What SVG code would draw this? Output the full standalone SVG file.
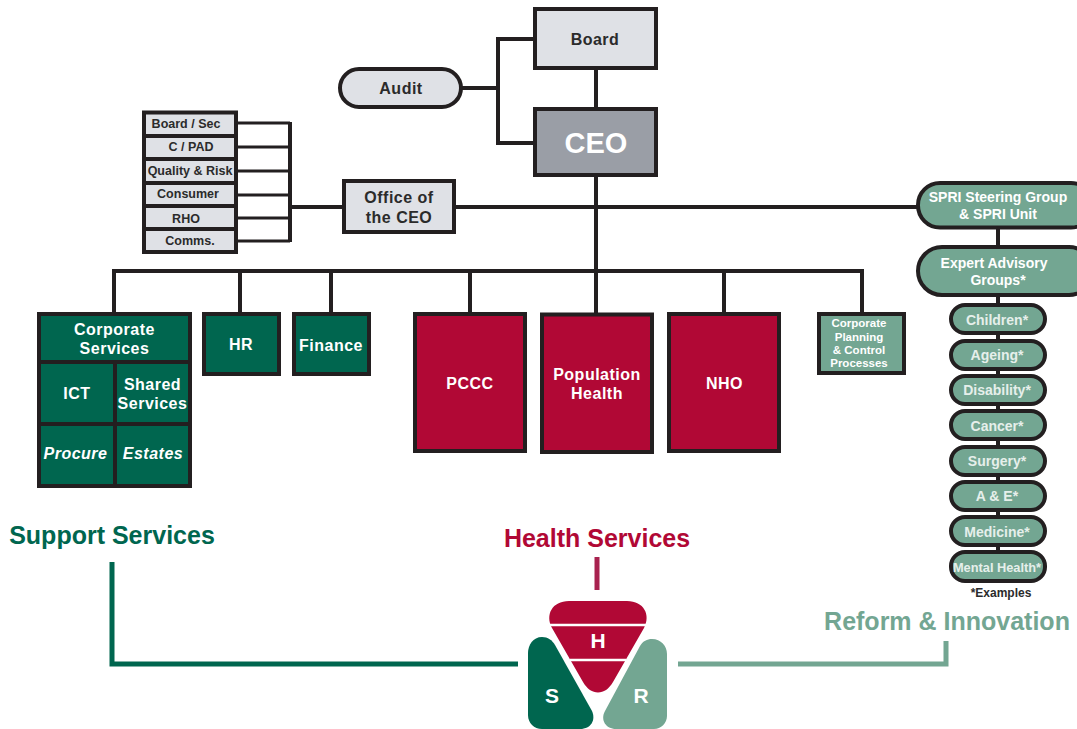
<svg xmlns="http://www.w3.org/2000/svg" width="1077" height="729" viewBox="0 0 1077 729">
<style>
text{font-family:"Liberation Sans",Arial,sans-serif;font-weight:700;text-anchor:middle}
.w{fill:#fff}.k{fill:#2b2b2b}.s{fill:#e6efeb}
.box{stroke:#231f20;stroke-width:4}
.grey{fill:#dfe1e6}.dg{fill:#00664f}.red{fill:#b10835}.lg{fill:#73a692}
.c{fill:none;stroke:#231f20;stroke-width:4}
.n{fill:none;stroke:#231f20;stroke-width:3}
.t15{font-size:16px;letter-spacing:.5px}.t13{font-size:12.500px}
.p{font-size:14px}
</style>
<g id="connectors">
<path class="c" d="M596 68V108M533 39H498V143H533M461 88H498M596 176V313M114 313V271H862V313M240 271V313M331 271V313M470 271V313M724 271V313"/>
<path class="n" d="M236 123H290M236 147H290M236 171H290M236 195H290M236 218H290M236 241H290"/>
<path class="c" d="M290 122V242M290 207H343M455 207H918M998 228V552"/>
<path fill="none" stroke="#00664f" stroke-width="5" d="M112 562V664H518"/>
<path fill="none" stroke="#a8224f" stroke-width="5" d="M597 557V590"/>
<path fill="none" stroke="#73a692" stroke-width="5" d="M678 664H946V641"/>
</g>
<g id="board"><rect class="box grey" x="535" y="9" width="121" height="59"/><text class="t15 k" x="595" y="44.500">Board</text></g>
<g id="audit"><rect class="box grey" x="340" y="69" width="121" height="38" rx="19"/><text class="t15 k" x="401" y="93.500">Audit</text></g>
<g id="ceo"><rect class="box" fill="#9a9ea6" x="535" y="109" width="121" height="66"/><text class="w" x="596" y="153" font-size="29">CEO</text></g>
<g id="office"><rect class="box grey" x="344" y="181" width="110" height="51"/><text class="t15 k" x="399" y="202.500">Office of</text><text class="t15 k" x="399" y="222.500">the CEO</text></g>
<g id="office-units">
<rect class="box grey" x="144" y="112.500" width="92" height="23.500"/><text class="t13 k" x="186" y="128">Board / Sec</text>
<rect class="box grey" x="144" y="136" width="92" height="23"/><text class="t13 k" x="191" y="151">C / PAD</text>
<rect class="box grey" x="144" y="159" width="92" height="24"/><text class="t13 k" x="190" y="175" font-size="12">Quality &amp; Risk</text>
<rect class="box grey" x="144" y="183" width="92" height="23"/><text class="t13 k" x="188" y="198">Consumer</text>
<rect class="box grey" x="144" y="206" width="92" height="23"/><text class="t13 k" x="186" y="223">RHO</text>
<rect class="box grey" x="144" y="229" width="92" height="23"/><text class="t13 k" x="190" y="245">Comms.</text>
</g>
<g id="corporate-services">
<rect class="box dg" x="39" y="314" width="151" height="172"/>
<path class="c" d="M38 362H191M38 424H191M115 362V488"/>
<text class="t15 w" x="114.500" y="334.500">Corporate</text><text class="t15 w" x="114.500" y="353.500">Services</text>
<text class="t15 w" x="77" y="398.500">ICT</text>
<text class="t15 w" x="152.500" y="389.500">Shared</text><text class="t15 w" x="152.500" y="409">Services</text>
<text class="t15 w" x="75.500" y="459" font-style="italic">Procure</text><text class="t15 w" x="153" y="459" font-style="italic">Estates</text>
</g>
<g id="hr"><rect class="box dg" x="204" y="314" width="75" height="60"/><text class="t15 w" x="241" y="349.500">HR</text></g>
<g id="finance"><rect class="box dg" x="294" y="314" width="75" height="60"/><text class="t15 w" x="331" y="350.500">Finance</text></g>
<g id="pccc"><rect class="box red" x="415" y="314" width="110" height="137"/><text class="t15 w" x="470" y="388.500">PCCC</text></g>
<g id="population-health"><rect class="box red" x="542" y="314.500" width="110" height="137.500"/><text class="t15 w" x="597" y="379.500">Population</text><text class="t15 w" x="597" y="398.500">Health</text></g>
<g id="nho"><rect class="box red" x="669" y="314" width="110" height="137"/><text class="t15 w" x="724.500" y="388.500">NHO</text></g>
<g id="planning"><rect class="box lg" x="819" y="314" width="85" height="59"/>
<text class="w" font-size="11.500" x="859" y="327">Corporate</text><text class="w" font-size="11.500" x="859" y="341">Planning</text><text class="w" font-size="11.500" x="859" y="354">&amp; Control</text><text class="w" font-size="11.500" x="859" y="367">Processes</text></g>
<g id="spri"><rect class="box lg" x="918" y="183" width="175" height="44.500" rx="22"/><text class="w" x="998" y="202" font-size="14">SPRI Steering Group</text><text class="w" x="998" y="219" font-size="14">&amp; SPRI Unit</text></g>
<g id="expert"><rect class="box lg" x="918" y="247" width="175" height="48" rx="24"/><text class="w" x="994" y="268" font-size="14">Expert Advisory</text><text class="w" x="998" y="285" font-size="14">Groups*</text></g>
<g id="children"><rect class="box lg" x="951" y="305" width="94" height="28" rx="14"/><text class="p s" x="997" y="325">Children*</text></g>
<g id="ageing"><rect class="box lg" x="951" y="341" width="94" height="28" rx="14"/><text class="p s" x="997" y="360">Ageing*</text></g>
<g id="disability"><rect class="box lg" x="951" y="376" width="94" height="28" rx="14"/><text class="p s" x="997" y="395">Disability*</text></g>
<g id="cancer"><rect class="box lg" x="951" y="411" width="94" height="28" rx="14"/><text class="p s" x="997" y="431">Cancer*</text></g>
<g id="surgery"><rect class="box lg" x="951" y="447" width="94" height="28" rx="14"/><text class="p s" x="997" y="466">Surgery*</text></g>
<g id="ae"><rect class="box lg" x="951" y="482" width="94" height="28" rx="14"/><text class="p s" x="997" y="501">A &amp; E*</text></g>
<g id="medicine"><rect class="box lg" x="951" y="517" width="94" height="28" rx="14"/><text class="p s" x="997" y="537">Medicine*</text></g>
<g id="mental-health"><rect class="box lg" x="951" y="552" width="94" height="29" rx="14"/><text class="s" x="997" y="572" font-size="12.800">Mental Health*</text></g>
<text class="k" x="1001" y="597" font-size="12">*Examples</text>
<text x="112" y="544" font-size="25" fill="#00664f">Support Services</text>
<text x="597" y="547" font-size="25" fill="#b10835">Health Services</text>
<text x="947" y="630" font-size="25" fill="#73a692">Reform &amp; Innovation</text>
<g id="logo">
<path class="red" d="M569 601H627C644 601 651 615 644 628L613 682C605 696 591 696 583 682L552 628C545 615 552 601 569 601Z"/>
<path stroke="#fff" stroke-width="2.500" d="M550 625H646M570 660H626"/>
<path class="dg" d="M542 637C533 637 528 645 528 653V715C528 723 534 729 542 729H580C591 729 596 720 592 711L555 645C552 640 548 637 542 637Z"/>
<path class="lg" d="M652 639C661 639 667 646 667 654V716C667 723 661 729 654 729H616C606 729 600 720 605 711L640 646C643 641 647 639 652 639Z"/>
<text class="w" x="598" y="648" font-size="21">H</text><text class="w" x="552" y="703" font-size="21">S</text><text class="w" x="641" y="703" font-size="21">R</text>
</g>
</svg>
